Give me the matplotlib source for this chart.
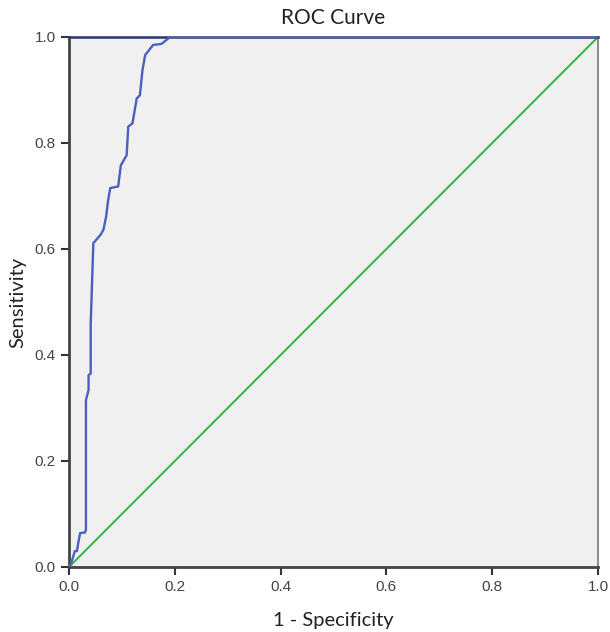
import matplotlib
matplotlib.use("Agg")
import matplotlib.pyplot as plt

# ROC curve points (1 - specificity, sensitivity)
fpr = [0.0, 0.005, 0.011, 0.015, 0.018, 0.021, 0.030, 0.032, 0.032, 0.037, 0.037,
       0.041, 0.041, 0.046, 0.059, 0.065, 0.070, 0.074, 0.078, 0.093, 0.098, 0.109,
       0.112, 0.120, 0.128, 0.134, 0.139, 0.144, 0.159, 0.175, 0.191, 1.0]
tpr = [0.0, 0.010, 0.030, 0.030, 0.048, 0.064, 0.065, 0.070, 0.315, 0.334, 0.362,
       0.365, 0.457, 0.611, 0.626, 0.636, 0.660, 0.692, 0.715, 0.718, 0.758, 0.777,
       0.831, 0.837, 0.884, 0.890, 0.938, 0.966, 0.985, 0.987, 1.0, 1.0]
ref_x = [0.0, 1.0]
ref_y = [0.0, 1.0]
ticks = [0.0, 0.2, 0.4, 0.6, 0.8, 1.0]
tick_labels = ["0.0", "0.2", "0.4", "0.6", "0.8", "1.0"]

fig = plt.figure(figsize=(6.1, 6.32), dpi=100)
ax = fig.add_axes([69/610, 65/632, 529/610, 530/632])
ax.set_facecolor("#f0f0f0")

ax.plot(ref_x, ref_y, color="#3cb54a", lw=1.5, zorder=2)
ax.plot(fpr, tpr, color="#4a5fbf", lw=1.7, zorder=3)

ax.set_xlim(0, 1)
ax.set_ylim(0, 1)
ax.tick_params(direction="out", length=6, width=1.5, color="#333333")
ax.set_xticks(ticks)
ax.set_xticklabels(tick_labels, fontfamily="Liberation Sans", fontsize=11, color="#444444")
ax.set_yticks(ticks)
ax.set_yticklabels(tick_labels, fontfamily="Liberation Sans", fontsize=11, color="#444444")

for s in ["left", "bottom"]:
    ax.spines[s].set_linewidth(2.0)
    ax.spines[s].set_color("#444444")
ax.spines["top"].set_linewidth(1.8)
ax.spines["top"].set_color("#2a3570")
ax.spines["right"].set_linewidth(1.2)
ax.spines["right"].set_color("#777777")

ax.set_title("ROC Curve", fontsize=15, family="Lato", color="#222222", pad=9)
ax.set_xlabel("1 - Specificity", fontsize=14.5, family="Lato", color="#222222", labelpad=13)
ax.set_ylabel("Sensitivity", fontsize=14.5, family="Lato", color="#222222", labelpad=6)

fig.savefig("out.png", dpi=100)
